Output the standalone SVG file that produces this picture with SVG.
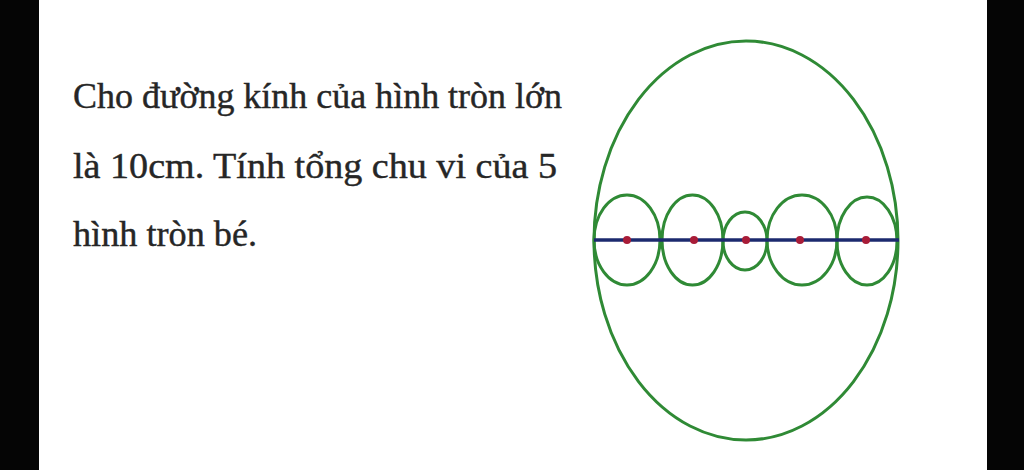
<svg xmlns="http://www.w3.org/2000/svg" width="1024" height="470" viewBox="0 0 1024 470">
<style>
.t{font-family:"Liberation Serif","Times New Roman",serif;font-size:35px;fill:#262626;stroke:#262626;stroke-width:0.4}
.c{fill:none;stroke:#2f8a35;stroke-width:3}
.d{fill:#a81c38}
</style>
<rect x="0" y="0" width="1024" height="470" fill="#ffffff"/>
<rect x="0" y="0" width="39" height="470" fill="#050505"/>
<rect x="987" y="0" width="37" height="470" fill="#050505"/>
<g id="text">
<text class="t" x="73" y="108" textLength="489" lengthAdjust="spacingAndGlyphs">Cho đường kính của hình tròn lớn</text>
<text class="t" x="73" y="178" textLength="484" lengthAdjust="spacingAndGlyphs">là 10cm. Tính tổng chu vi của 5</text>
<text class="t" x="73" y="246" textLength="184" lengthAdjust="spacingAndGlyphs">hình tròn bé.</text>
</g>
<g id="big-circle">
<ellipse class="c" cx="746" cy="240.5" rx="152" ry="199.5"/>
</g>
<g id="small-circles">
<ellipse class="c" cx="627" cy="240" rx="33" ry="45"/>
<ellipse class="c" cx="692.5" cy="240" rx="30.5" ry="45"/>
<ellipse class="c" cx="745" cy="241" rx="22" ry="29"/>
<ellipse class="c" cx="802" cy="240" rx="35" ry="45"/>
<ellipse class="c" cx="867" cy="241" rx="30" ry="44"/>
</g>
<g id="connectors">
<line x1="594" y1="240" x2="899" y2="240" stroke="#1c2a6e" stroke-width="3.5"/>
</g>
<g id="centers">
<circle class="d" cx="627" cy="240" r="4"/>
<circle class="d" cx="694" cy="240" r="4"/>
<circle class="d" cx="746" cy="240" r="4"/>
<circle class="d" cx="800" cy="240" r="4"/>
<circle class="d" cx="866" cy="240" r="4"/>
</g>
</svg>
